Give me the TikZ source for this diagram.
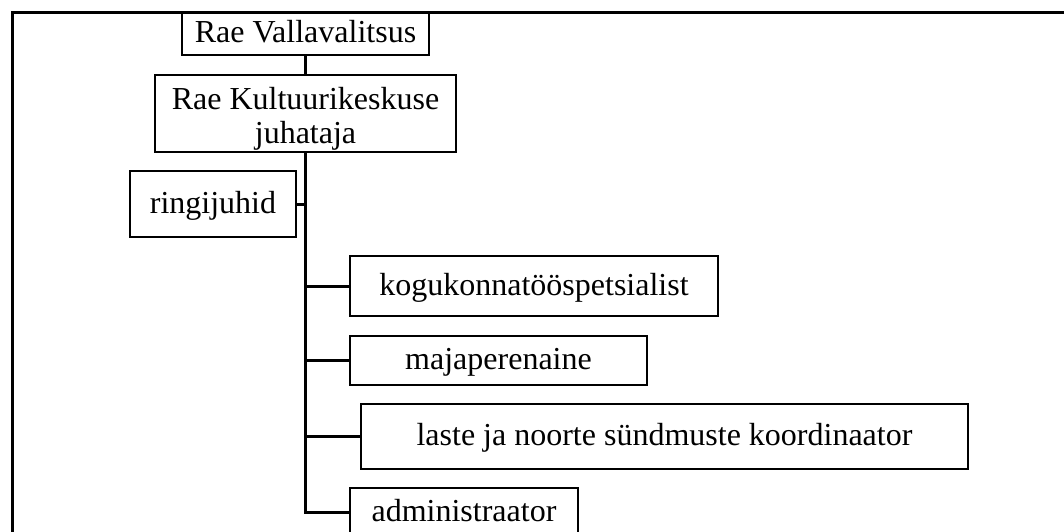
\documentclass[tikz,border=0pt]{standalone}
\usepackage{fontspec}
\setmainfont{Liberation Serif}
\usepackage{tikz}

\begin{document}
\begin{tikzpicture}[x=1pt, y=-1pt, line width=3pt,
		unit/.style={draw, black, line width=2.8pt, inner sep=0pt, font=\fontsize{32}{34}\selectfont, align=center},
		oneline/.style={unit, text height=24pt, text depth=6pt}]
		\useasboundingbox (0, 0) rectangle (1064, 531);
		\clip (0, 0) rectangle (1064, 531);
		\draw (12, 12) rectangle (1120, 600);
		\node[oneline, minimum width=247pt, minimum height=43pt] (vald) at (305.5, 33.5) {Rae Vallavalitsus};
		\node[unit, minimum width=301pt, minimum height=77pt] (juht) at (305.5, 113.5) {\rule{0pt}{32pt}Rae Kultuurikeskuse\\juhataja};
		\node[oneline, minimum width=166pt, minimum height=66pt] (ringi) at (213, 204) {ringijuhid};
		\node[oneline, minimum width=368pt, minimum height=60pt] (kogu) at (534, 286) {kogukonnatööspetsialist};
		\node[oneline, minimum width=297pt, minimum height=49pt] (maja) at (498.5, 360.5) {majaperenaine};
		\node[oneline, minimum width=607pt, minimum height=65pt] (laste) at (664.5, 436.5) {laste ja noorte sündmuste koordinaator};
		\node[oneline, minimum width=228pt, minimum height=49pt] (admin) at (464, 512.5) {administraator};
		\draw (vald.south) -- (juht.north);
		\draw (ringi.east) -- (ringi.east -| juht.south);
		\foreach \n in {kogu, maja, laste, admin}
			\draw (juht.south) |- (\n.west);
	\end{tikzpicture}
\end{document}
